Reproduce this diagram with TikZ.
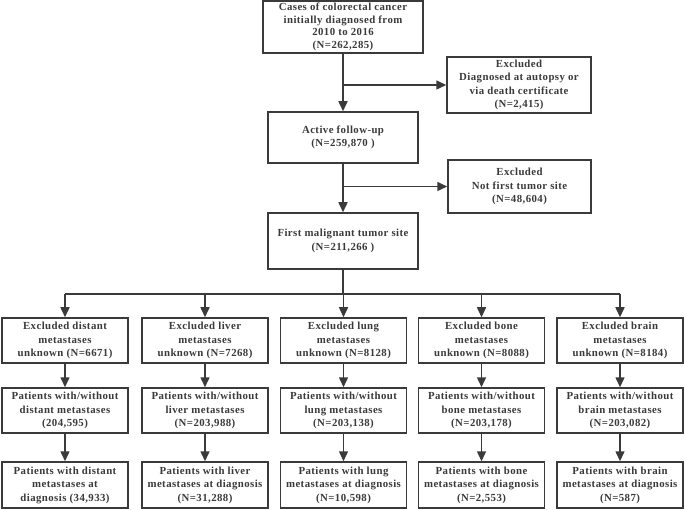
\documentclass[tikz,border=0pt]{standalone}
\usepackage{fontspec}
\setmainfont{Liberation Serif}[LetterSpace=4]
\usetikzlibrary{arrows.meta}
\definecolor{ln}{HTML}{3A3A3A}
\begin{document}
\begin{tikzpicture}[x=1pt,y=-1pt,
  box/.style={draw=ln, line width=1.5pt, align=center, inner sep=0pt, text=ln,
    font=\bfseries\fontsize{10.8}{13.5}\selectfont},
  cbox/.style={box, minimum width=126, minimum height=45},
  arr/.style={draw=ln, line width=1.5pt, -{Triangle[length=10pt,width=9pt]}},
  wire/.style={draw=ln, line width=1.5pt}]
\useasboundingbox (0,0) rectangle (685,510);
% main column
\node[box, minimum width=160, minimum height=52, font=\bfseries\fontsize{10.8}{12.5}\selectfont] (top) at (343,27)
  {Cases of colorectal cancer\\initially diagnosed from\\2010 to 2016\\(N=262,285)};
\node[box, minimum width=144, minimum height=56] (ex1) at (519,85)
  {Excluded\\Diagnosed at autopsy or\\via death certificate\\(N=2,415)};
\node[box, minimum width=150, minimum height=51] (act) at (343,137.5)
  {Active follow-up\\(N=259,870 )};
\node[box, minimum width=143, minimum height=53] (ex2) at (519.5,186.5)
  {Excluded\\Not first tumor site\\(N=48,604)};
\node[box, minimum width=150, minimum height=56] (first) at (343,241)
  {First malignant tumor site\\(N=211,266 )};
\coordinate (j1) at (343,85);
\coordinate (j2) at (343,186.5);
\draw[arr] (top) -- (act);
\draw[arr] (j1) -- (ex1);
\draw[arr] (act) -- (first);
\draw[arr] (j2) -- (ex2);
% row 1
\node[cbox] (r1c1) at (65,340.5) {Excluded distant\\metastases\\unknown (N=6671)};
\node[cbox] (r1c2) at (205,340.5) {Excluded liver\\metastases\\unknown (N=7268)};
\node[cbox] (r1c3) at (343.5,340.5) {Excluded lung\\metastases\\unknown (N=8128)};
\node[cbox] (r1c4) at (481.5,340.5) {Excluded bone\\metastases\\unknown (N=8088)};
\node[cbox] (r1c5) at (620,340.5) {Excluded brain\\metastases\\unknown (N=8184)};
% row 2
\node[cbox] (r2c1) at (65,410.5) {Patients with/without\\distant metastases\\(204,595)};
\node[cbox] (r2c2) at (205,410.5) {Patients with/without\\liver metastases\\(N=203,988)};
\node[cbox] (r2c3) at (343.5,410.5) {Patients with/without\\lung metastases\\(N=203,138)};
\node[cbox] (r2c4) at (481.5,410.5) {Patients with/without\\bone metastases\\(N=203,178)};
\node[cbox] (r2c5) at (620,410.5) {Patients with/without\\brain metastases\\(N=203,082)};
% row 3
\node[cbox, minimum height=46] (r3c1) at (65,485) {Patients with distant\\metastases at\\diagnosis (34,933)};
\node[cbox, minimum height=46] (r3c2) at (205,485) {Patients with liver\\metastases at diagnosis\\(N=31,288)};
\node[cbox, minimum height=46] (r3c3) at (343.5,485) {Patients with lung\\metastases at diagnosis\\(N=10,598)};
\node[cbox, minimum height=46] (r3c4) at (481.5,485) {Patients with bone\\metastases at diagnosis\\(N=2,553)};
\node[cbox, minimum height=46] (r3c5) at (620,485) {Patients with brain\\metastases at diagnosis\\(N=587)};
% bus
\coordinate (bus) at (343,294);
\draw[wire] (first) -- (bus);
\draw[wire] (r1c1 |- bus) -- (r1c5 |- bus);
\foreach \i in {1,...,5} {
  \draw[arr] (r1c\i |- bus) -- (r1c\i);
  \draw[arr] (r1c\i) -- (r2c\i);
  \draw[arr] (r2c\i) -- (r3c\i);
}
\end{tikzpicture}
\end{document}
